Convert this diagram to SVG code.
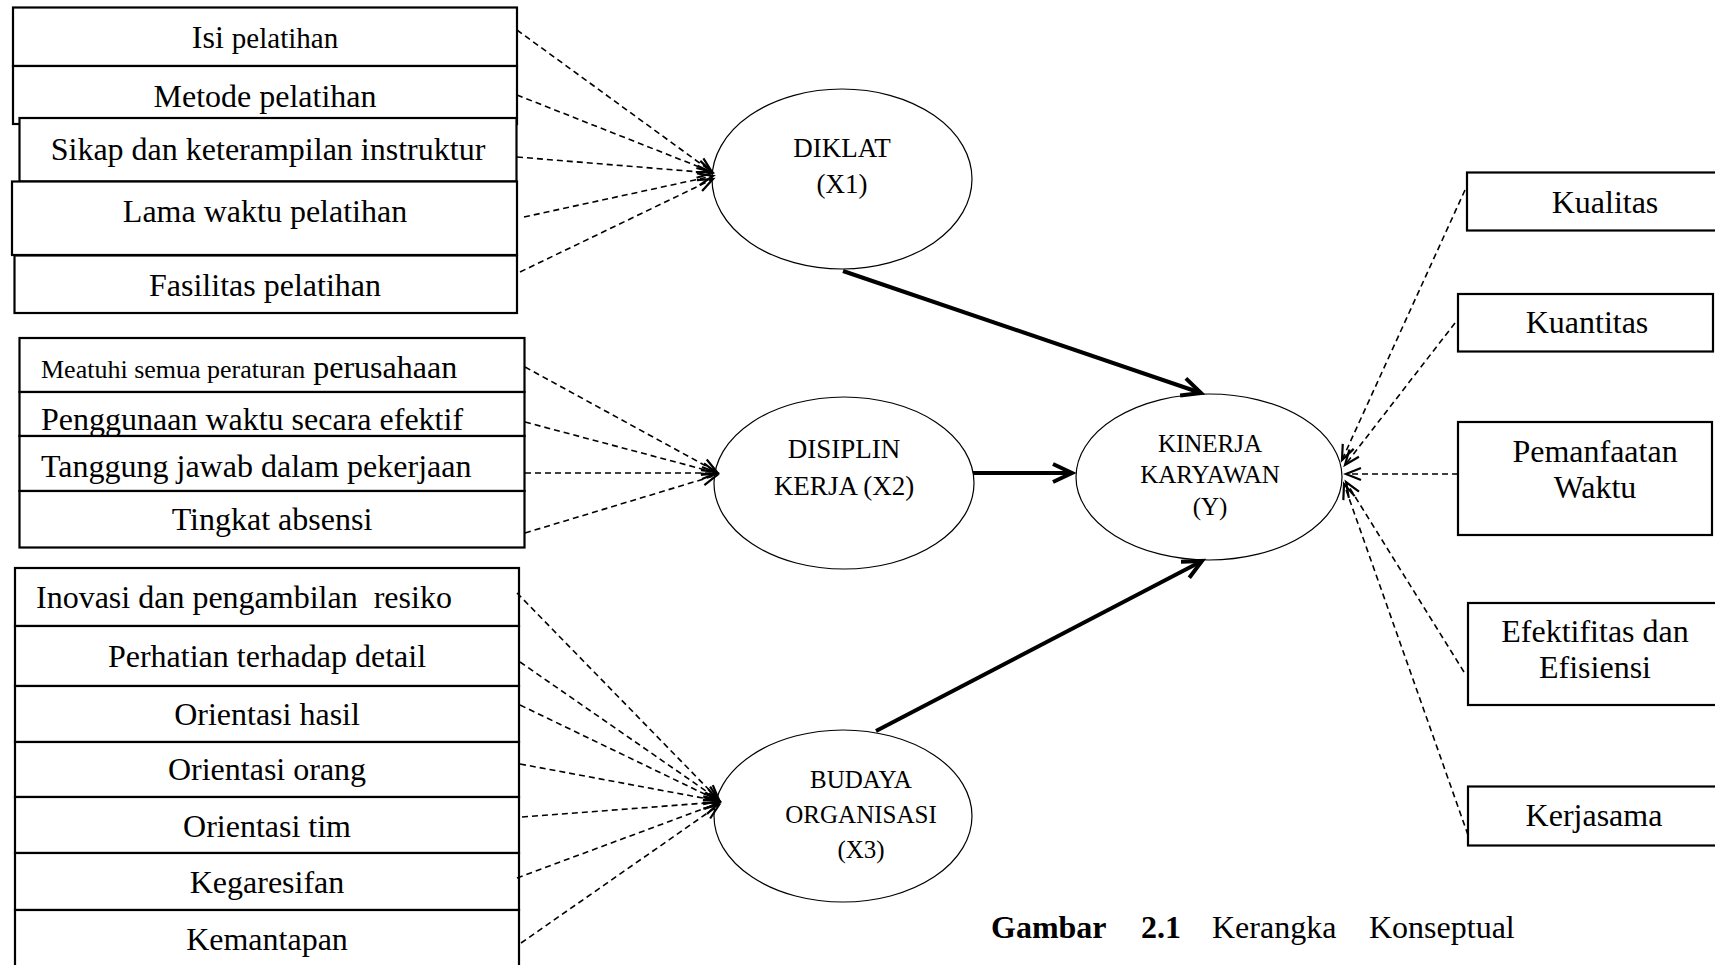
<svg xmlns="http://www.w3.org/2000/svg" width="1715" height="965" viewBox="0 0 1715 965">
<defs>
<style>
.box{fill:#fff;stroke:#000;stroke-width:2.2}
.ell{fill:#fff;stroke:#000;stroke-width:1.2}
.t{font-family:"Liberation Serif","Times New Roman",serif;font-size:32px;fill:#000}
.c{text-anchor:middle}
.t.e26{font-size:27px}
.t.e23{font-size:25px}
.d{fill:none;stroke:#000;stroke-width:1.6;stroke-dasharray:6 4}
.k{fill:none;stroke:#000;stroke-width:4}
</style>
<marker id="ah" markerUnits="userSpaceOnUse" markerWidth="20" markerHeight="20" refX="0" refY="0" viewBox="-18 -10 20 20" orient="auto" overflow="visible">
<path d="M-15,-6 L0,0 L-15,6" fill="none" stroke="#000" stroke-width="2.2"/>
</marker>
<marker id="ahT" markerUnits="userSpaceOnUse" markerWidth="30" markerHeight="30" refX="0" refY="0" viewBox="-25 -15 30 30" orient="auto" overflow="visible">
<path d="M-19,-9 L0,0 L-19,9" fill="none" stroke="#000" stroke-width="4"/>
</marker>
</defs>
<rect width="1715" height="965" fill="#fff"/>

<g id="diklat-indicators">
<g id="n-isi"><rect class="box" x="13" y="7.5" width="504" height="58.5"/><text class="t c" x="265" y="48">Isi <tspan font-size="29">pelatihan</tspan></text></g>
<g id="n-metode"><rect class="box" x="13" y="66" width="504" height="58"/><text class="t c" x="265" y="107">Metode pelatihan</text></g>
<g id="n-sikap"><rect class="box" x="19.5" y="118" width="497" height="63.5"/><text class="t c" x="268" y="160">Sikap dan keterampilan instruktur</text></g>
<g id="n-lama"><rect class="box" x="12" y="181.5" width="505" height="73.5"/><text class="t c" x="265" y="222">Lama waktu pelatihan</text></g>
<g id="n-fasilitas"><rect class="box" x="14.5" y="255.5" width="502.5" height="57.5"/><text class="t c" x="265" y="296">Fasilitas pelatihan</text></g>
</g>

<g id="disiplin-indicators">
<g id="n-meatuhi"><rect class="box" x="19.5" y="338" width="505" height="54"/><text class="t" x="41" y="378"><tspan font-size="26">Meatuhi semua peraturan</tspan> perusahaan</text></g>
<g id="n-penggunaan"><rect class="box" x="19.5" y="392" width="505" height="44"/><text class="t" x="41" y="430">Penggunaan waktu secara efektif</text></g>
<g id="n-tanggung"><rect class="box" x="19.5" y="436" width="505" height="55"/><text class="t" x="41" y="477">Tanggung jawab dalam pekerjaan</text></g>
<g id="n-tingkat"><rect class="box" x="19.5" y="491" width="505" height="56.5"/><text class="t c" x="272" y="530">Tingkat absensi</text></g>
</g>

<g id="budaya-indicators">
<g id="n-inovasi"><rect class="box" x="15" y="568" width="504" height="58"/><text class="t" x="36" y="608" xml:space="preserve">Inovasi dan pengambilan  resiko</text></g>
<g id="n-perhatian"><rect class="box" x="15" y="626" width="504" height="60"/><text class="t c" x="267" y="667">Perhatian terhadap detail</text></g>
<g id="n-hasil"><rect class="box" x="15" y="686" width="504" height="56"/><text class="t c" x="267" y="725">Orientasi hasil</text></g>
<g id="n-orang"><rect class="box" x="15" y="742" width="504" height="55"/><text class="t c" x="267" y="780">Orientasi orang</text></g>
<g id="n-tim"><rect class="box" x="15" y="797" width="504" height="56"/><text class="t c" x="267" y="837">Orientasi tim</text></g>
<g id="n-kegaresifan"><rect class="box" x="15" y="853" width="504" height="57"/><text class="t c" x="267" y="893">Kegaresifan</text></g>
<g id="n-kemantapan"><rect class="box" x="15" y="910" width="504" height="70"/><text class="t c" x="267" y="950">Kemantapan</text></g>
</g>

<g id="n-diklat"><ellipse class="ell" cx="842" cy="179" rx="130" ry="90"/><text class="t c e26" x="842" y="157">DIKLAT</text><text class="t c e26" x="842" y="193">(X1)</text></g>
<g id="n-disiplin"><ellipse class="ell" cx="844" cy="483" rx="130" ry="86"/><text class="t c e26" x="844" y="458">DISIPLIN</text><text class="t c e26" x="844" y="495">KERJA (X2)</text></g>
<g id="n-budaya"><ellipse class="ell" cx="843" cy="816" rx="129" ry="86"/><text class="t c e23" x="861" y="788">BUDAYA</text><text class="t c e23" x="861" y="823">ORGANISASI</text><text class="t c e23" x="861" y="858">(X3)</text></g>
<g id="n-kinerja"><ellipse class="ell" cx="1209" cy="477" rx="133" ry="83"/><text class="t c e23" x="1210" y="452">KINERJA</text><text class="t c e23" x="1210" y="483">KARYAWAN</text><text class="t c e23" x="1210" y="515">(Y)</text></g>

<g id="kinerja-indicators">
<g id="n-kualitas"><rect class="box" x="1467" y="172.5" width="260" height="58"/><text class="t c" x="1605" y="213">Kualitas</text></g>
<g id="n-kuantitas"><rect class="box" x="1458" y="294" width="255" height="57.5"/><text class="t c" x="1587" y="333">Kuantitas</text></g>
<g id="n-pemanfaatan"><rect class="box" x="1458" y="422" width="254" height="113"/><text class="t c" x="1595" y="462">Pemanfaatan</text><text class="t c" x="1595" y="498">Waktu</text></g>
<g id="n-efektifitas"><rect class="box" x="1468" y="603" width="260" height="102"/><text class="t c" x="1595" y="642">Efektifitas dan</text><text class="t c" x="1595" y="678">Efisiensi</text></g>
<g id="n-kerjasama"><rect class="box" x="1468" y="786.5" width="260" height="59"/><text class="t c" x="1594" y="826">Kerjasama</text></g>
</g>

<g id="connectors">
<line class="d" x1="517" y1="30" x2="712" y2="172" marker-end="url(#ah)"/>
<line class="d" x1="517" y1="95" x2="712" y2="172" marker-end="url(#ah)"/>
<line class="d" x1="517" y1="157" x2="712" y2="173" marker-end="url(#ah)"/>
<line class="d" x1="524" y1="217" x2="713" y2="176" marker-end="url(#ah)"/>
<line class="d" x1="520" y1="272" x2="713" y2="179" marker-end="url(#ah)"/>

<line class="d" x1="525" y1="367" x2="717" y2="472" marker-end="url(#ah)"/>
<line class="d" x1="525" y1="422" x2="717" y2="473" marker-end="url(#ah)"/>
<line class="d" x1="525" y1="473" x2="717" y2="473" marker-end="url(#ah)"/>
<line class="d" x1="525" y1="533" x2="717" y2="475" marker-end="url(#ah)"/>

<line class="d" x1="517" y1="593" x2="719" y2="800" marker-end="url(#ah)"/>
<line class="d" x1="520" y1="662" x2="719" y2="800" marker-end="url(#ah)"/>
<line class="d" x1="520" y1="705" x2="719" y2="801" marker-end="url(#ah)"/>
<line class="d" x1="520" y1="764" x2="719" y2="801" marker-end="url(#ah)"/>
<line class="d" x1="522" y1="817" x2="719" y2="802" marker-end="url(#ah)"/>
<line class="d" x1="517" y1="878" x2="719" y2="803" marker-end="url(#ah)"/>
<line class="d" x1="521" y1="943" x2="719" y2="805" marker-end="url(#ah)"/>

<line class="d" x1="1465" y1="190" x2="1342" y2="460" marker-end="url(#ah)"/>
<line class="d" x1="1455" y1="323" x2="1345" y2="465" marker-end="url(#ah)"/>
<line class="d" x1="1458" y1="474" x2="1346" y2="474" marker-end="url(#ah)"/>
<line class="d" x1="1464" y1="672" x2="1346" y2="482" marker-end="url(#ah)"/>
<line class="d" x1="1468" y1="835" x2="1344" y2="484" marker-end="url(#ah)"/>

<line class="k" x1="843" y1="271" x2="1201" y2="393" marker-end="url(#ahT)"/>
<line class="k" x1="973" y1="473" x2="1072" y2="473" marker-end="url(#ahT)"/>
<line class="k" x1="876" y1="731" x2="1202" y2="561" marker-end="url(#ahT)"/>
</g>

<g id="caption">
<text class="t" x="991" y="938" font-weight="bold">Gambar</text>
<text class="t" x="1141" y="938" font-weight="bold">2.1</text>
<text class="t" x="1212" y="938">Kerangka</text>
<text class="t" x="1369" y="938">Konseptual</text>
</g>
</svg>
